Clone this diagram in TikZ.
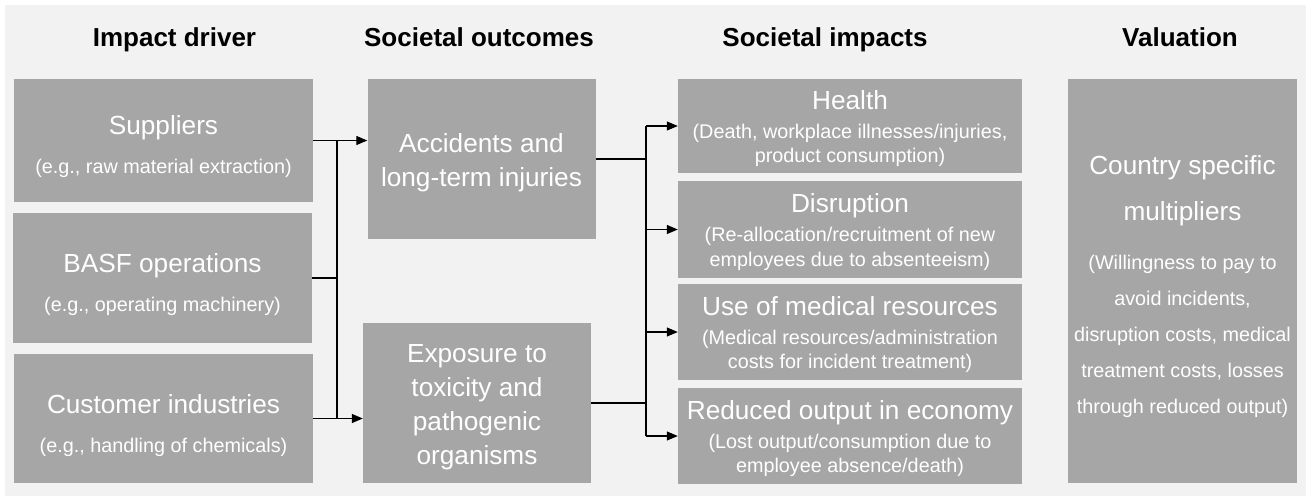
\documentclass[tikz,border=0pt]{standalone}
\usepackage{fontspec}
\setmainfont{Liberation Sans}
\usepackage{tikz}
\usetikzlibrary{arrows.meta}

\definecolor{boxgray}{HTML}{A6A6A6}
\definecolor{bggray}{HTML}{F2F2F2}
\newcommand{\subtxt}[1]{{\fontsize{19.8}{24}\selectfont #1}}
\newcommand{\maintxt}[1]{{\fontsize{26.2}{30}\selectfont #1}}
\newcommand{\padtop}[1]{\rule{0pt}{#1}}

\begin{document}
\begin{tikzpicture}[x=1pt, y=-1pt,
    box/.style={fill=boxgray, text=white, inner sep=0pt, align=center},
    head/.style={font=\bfseries\fontsize{26}{30}\selectfont, anchor=base},
    drv/.style={box, minimum width=299pt, font=\fontsize{26.2}{39}\selectfont},
    outc/.style={box, minimum width=228pt, minimum height=160pt, font=\fontsize{26.2}{34}\selectfont},
    imp/.style={box, minimum width=344pt, font=\fontsize{19.8}{24.5}\selectfont},
    link/.style={line width=1.2pt},
    arr/.style={link, -{Triangle[length=11pt, width=9pt]}}]
        \useasboundingbox (0,0) rectangle (1306,496);
        \fill[white] (0,0) rectangle (1306,496);
        \fill[bggray] (5,5) rectangle (1306,496);

        % column heads
        \node[head] (hdrv) at (174.5,46) {Impact driver};
        \node[head] (hout) at (479,46) {Societal outcomes};
        \node[head] (himp) at (825,46) {Societal impacts};
        \node[head] (hval) at (1180,46) {Valuation};

        % impact drivers
        \node[drv, minimum height=123pt] (sup) at (163.5,140.5) {\padtop{31pt}Suppliers\\\subtxt{(e.g., raw material extraction)}};
        \node[drv, minimum height=130pt] (bas) at (162.5,278) {\padtop{33pt}BASF operations\\\subtxt{(e.g., operating machinery)}};
        \node[drv, minimum height=129pt] (cus) at (163.5,418.5) {\padtop{33pt}Customer industries\\\subtxt{(e.g., handling of chemicals)}};

        % societal outcomes
        \node[outc] (acc) at (481.5,159) {\padtop{26pt}Accidents and\\long-term injuries};
        \node[outc] (exp) at (477,403) {\padtop{27pt}Exposure to\\toxicity and\\pathogenic\\organisms};

        % societal impacts
        \node[imp, minimum height=94pt] (hea) at (850,126) {\maintxt{\padtop{24pt}Health}\\[4.5pt](Death, workplace illnesses/injuries,\\product consumption)};
        \node[imp, minimum height=97pt] (dis) at (850,229.5) {\maintxt{\padtop{24pt}Disruption}\\[4.5pt](Re-allocation/recruitment of new\\employees due to absenteeism)};
        \node[imp, minimum height=96pt] (med) at (850,332) {\maintxt{\padtop{24pt}Use of medical resources}\\[4.5pt](Medical resources/administration\\costs for incident treatment)};
        \node[imp, minimum height=96pt] (red) at (850,436) {\maintxt{\padtop{24pt}Reduced output in economy}\\[4.5pt](Lost output/consumption due to\\employee absence/death)};

        % valuation
        \node[box, minimum width=229pt, minimum height=404pt, font=\fontsize{19.8}{36}\selectfont] (val) at (1182.5,281)
            {\maintxt{\padtop{31pt}Country specific}\\[10pt]\maintxt{multipliers}\\[13pt](Willingness to pay to\\avoid incidents,\\disruption costs, medical\\treatment costs, losses\\through reduced output)};

        % connectors
        \coordinate (lj) at (337,0);
        \coordinate (rj) at (646,0);
        \draw[arr] (sup.east) -- (sup.east -| acc.west);
        \draw[link] (bas.east) -- (bas.east -| lj);
        \draw[arr] (cus.east) -- (cus.east -| exp.west);
        \draw[link] (sup.east -| lj) -- (cus.east -| lj);
        \draw[link] (acc.east) -- (acc.east -| rj);
        \draw[link] (exp.east) -- (exp.east -| rj);
        \draw[link] (hea.west -| rj) -- (red.west -| rj);
        \foreach \n in {hea,dis,med,red}
            \draw[arr] (\n.west -| rj) -- (\n.west);
\end{tikzpicture}
\end{document}
